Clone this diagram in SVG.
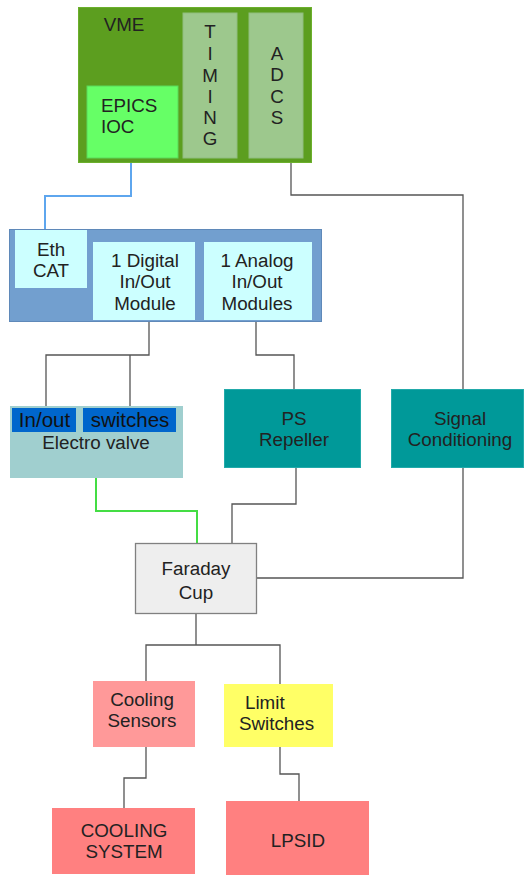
<svg xmlns="http://www.w3.org/2000/svg" width="526" height="876" viewBox="0 0 526 876">
<style>
text{font-family:"Liberation Sans",Arial,sans-serif;font-size:18.8px;fill:#222;text-anchor:middle}
.c{fill:none;stroke:#555;stroke-width:1.3}
.big{font-size:20.5px;fill:#111}
</style>
<rect width="526" height="876" fill="#fff"/>
<g id="connectors">
<path d="M131 163V196H45V229" fill="none" stroke="#5ea6ee" stroke-width="2"/>
<path class="c" d="M291 163V195H463V389"/>
<path class="c" d="M149 321V355H46V408M130 355V408"/>
<path class="c" d="M256 321V355H294V389"/>
<path d="M96 478V511H197V543" fill="none" stroke="#44dd44" stroke-width="2"/>
<path class="c" d="M296 468V504H232V543"/>
<path class="c" d="M463 468V578H257"/>
<path class="c" d="M196 614V645H146V681M196 645H280V684"/>
<path class="c" d="M146 747V778H124V808"/>
<path class="c" d="M280 747V774H299V801"/>
</g>
<g id="vme">
<rect x="78.5" y="7.5" width="233" height="155" fill="#5c9e1f" stroke="#6cb02c"/>
<text x="124" y="31">VME</text>
</g>
<g id="epics">
<rect x="87" y="86" width="91" height="72" fill="#66ff66" stroke="#5ad85a"/>
<text x="101" y="112" style="text-anchor:start">EPICS</text>
<text x="101" y="133" style="text-anchor:start">IOC</text>
</g>
<g id="timing">
<rect x="183" y="13" width="54" height="145" fill="#9dc88d" stroke="#8fbd7e"/>
<text x="210" y="38">T</text><text x="210" y="60">I</text><text x="210" y="82">M</text><text x="210" y="103">I</text><text x="210" y="124">N</text><text x="210" y="145">G</text>
</g>
<g id="adcs">
<rect x="249" y="13" width="54" height="145" fill="#9dc88d" stroke="#8fbd7e"/>
<text x="277" y="60">A</text><text x="277" y="81">D</text><text x="277" y="103">C</text><text x="277" y="124">S</text>
</g>
<g id="ethercat">
<rect x="9.5" y="229.5" width="312" height="92" fill="#729fcf" stroke="#5f89b9"/>
</g>
<g id="ethcat">
<rect x="15" y="230" width="72" height="58" fill="#ccffff"/>
<text x="51" y="256">Eth</text><text x="51" y="277">CAT</text>
</g>
<g id="digital">
<rect x="93" y="242" width="102" height="78" fill="#ccffff"/>
<text x="145" y="267">1 Digital</text><text x="145" y="288">In/Out</text><text x="145" y="310">Module</text>
</g>
<g id="analog">
<rect x="204" y="242" width="108" height="78" fill="#ccffff"/>
<text x="257" y="267">1 Analog</text><text x="257" y="288">In/Out</text><text x="257" y="310">Modules</text>
</g>
<g id="electrovalve">
<rect x="10" y="406" width="173" height="72" fill="#a0cfcf"/>
<text x="96" y="449">Electro valve</text>
</g>
<g id="inout">
<rect x="12" y="408" width="64" height="24" fill="#0066cc"/>
<text class="big" x="44.5" y="427">In/out</text>
</g>
<g id="switches">
<rect x="83" y="408" width="93" height="24" fill="#0066cc"/>
<text class="big" x="130" y="427">switches</text>
</g>
<g id="psrepeller">
<rect x="224.5" y="389.5" width="136" height="78" fill="#009999" stroke="#22aaaa"/>
<text x="294" y="425">PS</text><text x="294" y="446">Repeller</text>
</g>
<g id="signal">
<rect x="391.5" y="389.5" width="132" height="78" fill="#009999" stroke="#22aaaa"/>
<text x="460" y="425">Signal</text><text x="460" y="446">Conditioning</text>
</g>
<g id="faraday">
<rect x="135.5" y="543.5" width="121" height="70" fill="#eeeeee" stroke="#808080" stroke-width="1.3"/>
<text x="196" y="575">Faraday</text><text x="196" y="599">Cup</text>
</g>
<g id="coolingsensors">
<rect x="93" y="681" width="102" height="66" fill="#ff9999"/>
<text x="142" y="706">Cooling</text><text x="142" y="727">Sensors</text>
</g>
<g id="limitswitches">
<rect x="224" y="684" width="109" height="63" fill="#ffff66"/>
<text x="245" y="709" style="text-anchor:start">Limit</text><text x="239" y="730" style="text-anchor:start">Switches</text>
</g>
<g id="coolingsystem">
<rect x="52" y="808" width="143" height="66" fill="#ff8080"/>
<text x="124" y="837">COOLING</text><text x="124" y="858">SYSTEM</text>
</g>
<g id="lpsid">
<rect x="226" y="801" width="143" height="74" fill="#ff8080"/>
<text x="298" y="847">LPSID</text>
</g>
</svg>
